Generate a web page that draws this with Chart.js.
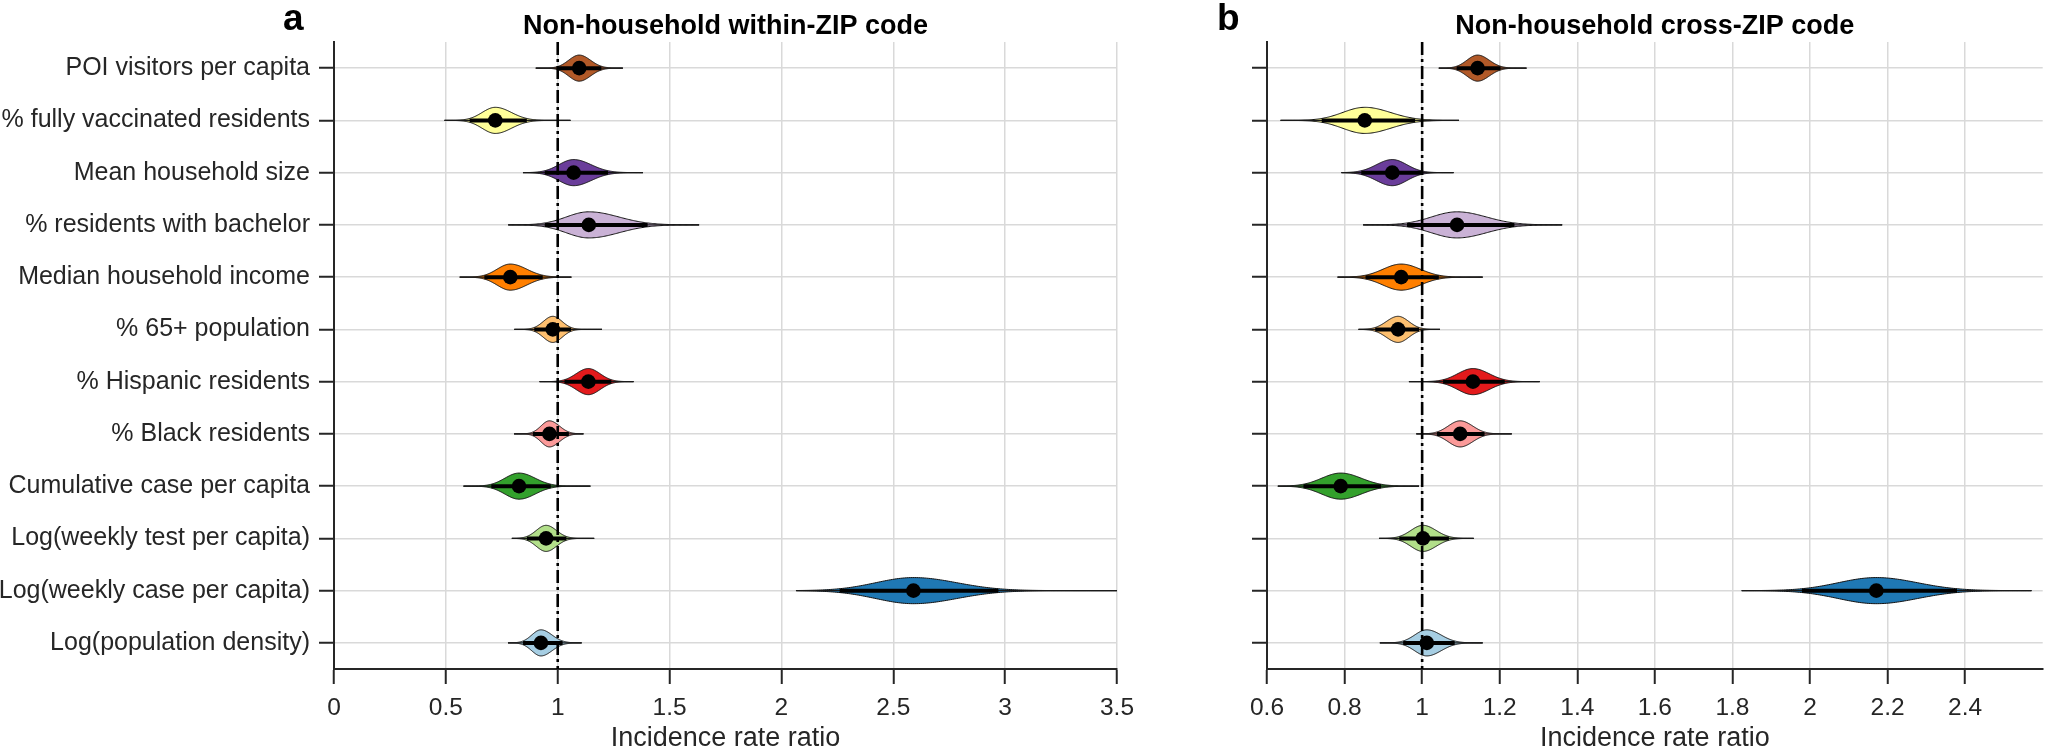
<!DOCTYPE html>
<html>
<head>
<meta charset="utf-8">
<script src="https://cdn.jsdelivr.net/npm/chart.js@4.4.0/dist/chart.umd.min.js"></script>
<style>
  html, body { margin: 0; padding: 0; background: #ffffff; }
  #wrap { position: relative; width: 2050px; height: 751px; overflow: hidden; background: #fff; }
  #ca { position: absolute; left: 0; top: 0; }
  #cb { position: absolute; left: 1150px; top: 0; }
</style>
</head>
<body>
<div id="wrap">
  <canvas id="ca" width="1150" height="756"></canvas>
  <canvas id="cb" width="900" height="756"></canvas>
</div>
<script>
// ---------------- DATA ----------------
const categories = [
  'POI visitors per capita',
  '% fully vaccinated residents',
  'Mean household size',
  '% residents with bachelor',
  'Median household income',
  '% 65+ population',
  '% Hispanic residents',
  '% Black residents',
  'Cumulative case per capita',
  'Log(weekly test per capita)',
  'Log(weekly case per capita)',
  'Log(population density)'
];

// Panel a: Non-household within-ZIP code
const medA    = [1.096, 0.721, 1.071, 1.139, 0.788, 0.978, 1.137, 0.963, 0.827, 0.948, 2.590, 0.925];
const ciLowA  = [1.004, 0.606, 0.942, 0.942, 0.672, 0.895, 1.030, 0.889, 0.703, 0.862, 2.260, 0.845];
const ciHighA = [1.195, 0.862, 1.225, 1.402, 0.933, 1.060, 1.240, 1.050, 0.969, 1.039, 2.970, 1.022];
const minA    = [0.902, 0.494, 0.845, 0.779, 0.562, 0.806, 0.919, 0.805, 0.579, 0.795, 2.066, 0.778];
const maxA    = [1.291, 1.057, 1.381, 1.632, 1.061, 1.198, 1.339, 1.115, 1.146, 1.163, 3.500, 1.107];

// Panel b: Non-household cross-ZIP code
const medB    = [1.143, 0.852, 0.923, 1.090, 0.946, 0.938, 1.131, 1.098, 0.790, 1.002, 2.171, 1.012];
const ciLowB  = [1.089, 0.741, 0.843, 0.961, 0.854, 0.879, 1.054, 1.038, 0.694, 0.941, 1.979, 0.951];
const ciHighB = [1.202, 0.982, 0.997, 1.238, 1.043, 0.992, 1.213, 1.161, 0.894, 1.069, 2.379, 1.084];
const minB    = [1.043, 0.635, 0.792, 0.848, 0.782, 0.836, 0.966, 0.985, 0.628, 0.889, 1.824, 0.891];
const maxB    = [1.269, 1.095, 1.081, 1.361, 1.156, 1.046, 1.303, 1.231, 0.992, 1.133, 2.571, 1.156];

const xTicksA = [0, 0.5, 1, 1.5, 2, 2.5, 3, 3.5];
const xTicksB = [0.6, 0.8, 1, 1.2, 1.4, 1.6, 1.8, 2, 2.2, 2.4];
const xRangeA = [0, 3.5];
const xRangeB = [0.6, 2.6];
const refLine = 1;

const titleA = 'Non-household within-ZIP code';
const titleB = 'Non-household cross-ZIP code';
const xLabel = 'Incidence rate ratio';

// ---------------- STYLE ----------------
const violinColors = ['#b15928','#ffff99','#6a3d9a','#cab2d6','#ff7f00','#fdbf6f',
                      '#e31a1c','#fb9a99','#33a02c','#b2df8a','#1f78b4','#a6cee3'];
const FONT = "'Liberation Sans', Arial, Helvetica, sans-serif";
const AX = '#262626';
const GRID = '#d9d9d9';

Chart.defaults.font.family = FONT;
Chart.defaults.color = AX;

// violins + reference line plugin
const violinPlugin = {
  id: 'violins',
  beforeDatasetsDraw(chart, args, opts) {
    const { ctx, chartArea: ca } = chart;
    const xs = chart.scales.x, ys = chart.scales.y;
    const band = Math.abs(ys.getPixelForValue(1) - ys.getPixelForValue(0));
    const hw = band * 0.25;
    ctx.save();
    ctx.beginPath();
    ctx.rect(ca.left, ca.top, ca.right - ca.left, ca.bottom - ca.top);
    ctx.clip();
    for (let i = 0; i < opts.med.length; i++) {
      const yc = ys.getPixelForValue(i);
      const m = opts.med[i], lo = opts.lo[i], hi = opts.hi[i];
      const mn = opts.min[i], mx = opts.max[i];
      const sL = (m - lo) / 1.96, sR = (hi - m) / 1.96;
      const N = 160;
      const top = [];
      for (let k = 0; k <= N; k++) {
        const v = mn + (mx - mn) * k / N;
        const s = v < m ? sL : sR;
        const z = (v - m) / s;
        top.push([xs.getPixelForValue(v), hw * Math.exp(-0.5 * z * z)]);
      }
      ctx.beginPath();
      top.forEach((p, k) => { if (k === 0) ctx.moveTo(p[0], yc - p[1]); else ctx.lineTo(p[0], yc - p[1]); });
      for (let k = top.length - 1; k >= 0; k--) ctx.lineTo(top[k][0], yc + top[k][1]);
      ctx.closePath();
      ctx.fillStyle = opts.colors[i];
      ctx.fill();
      ctx.lineWidth = 1;
      ctx.strokeStyle = '#111';
      ctx.stroke();
      // thin whisker
      ctx.beginPath();
      ctx.moveTo(xs.getPixelForValue(mn), yc);
      ctx.lineTo(xs.getPixelForValue(mx), yc);
      ctx.lineWidth = 1.3;
      ctx.strokeStyle = '#1a1a1a';
      ctx.stroke();
      // thick interval
      ctx.beginPath();
      ctx.moveTo(xs.getPixelForValue(lo), yc);
      ctx.lineTo(xs.getPixelForValue(hi), yc);
      ctx.lineWidth = 4;
      ctx.strokeStyle = '#000';
      ctx.stroke();
    }
    // reference dash-dot line
    const xr = xs.getPixelForValue(opts.ref);
    ctx.beginPath();
    ctx.setLineDash([13, 4, 3, 4]);
    ctx.moveTo(xr, ca.top);
    ctx.lineTo(xr, ca.bottom);
    ctx.lineWidth = 2.6;
    ctx.strokeStyle = '#000';
    ctx.stroke();
    ctx.setLineDash([]);
    ctx.restore();
  }
};

// titles plugin
const titlePlugin = {
  id: 'paneltitles',
  afterDraw(chart, args, opts) {
    const { ctx, chartArea: ca } = chart;
    ctx.save();
    ctx.fillStyle = '#000';
    ctx.textBaseline = 'alphabetic';
    ctx.textAlign = 'center';
    ctx.font = 'bold 27px ' + FONT;
    ctx.fillText(opts.title, (ca.left + ca.right) / 2, 34);
    ctx.textAlign = 'left';
    ctx.font = 'bold 37px ' + FONT;
    ctx.fillText(opts.letter, opts.letterX, 30);
    ctx.restore();
  }
};

function makeChart(id, cfg) {
  const fmt = v => String(+Number(v).toFixed(2));
  return new Chart(document.getElementById(id), {
    type: 'scatter',
    data: {
      datasets: [{
        data: cfg.med.map((v, i) => ({ x: v, y: categories[i] })),
        pointRadius: 7.3,
        pointHoverRadius: 7.3,
        pointBackgroundColor: '#000',
        pointBorderWidth: 0,
        showLine: false
      }]
    },
    options: {
      responsive: false,
      animation: false,
      devicePixelRatio: 1,
      layout: { padding: { left: 0, right: cfg.padRight, top: 42, bottom: 0 } },
      plugins: {
        legend: { display: false },
        tooltip: { enabled: false },
        violins: { med: cfg.med, lo: cfg.lo, hi: cfg.hi, min: cfg.min, max: cfg.max, colors: violinColors, ref: refLine },
        paneltitles: { title: cfg.title, letter: cfg.letter, letterX: cfg.letterX }
      },
      scales: {
        x: {
          type: 'linear',
          min: cfg.range[0],
          max: cfg.range[1],
          afterBuildTicks: s => { s.ticks = cfg.ticks.map(v => ({ value: v })); },
          afterFit: s => { s.height = 87; },
          ticks: { autoSkip: false, maxRotation: 0, padding: 10, color: AX, font: { size: 24.5 }, callback: fmt },
          grid: { color: GRID, lineWidth: 1.5, tickColor: AX, tickWidth: 2, tickLength: 15, drawTicks: true },
          border: { display: true, color: AX, width: 2 },
          title: { display: true, text: xLabel, color: AX, font: { size: 27 }, padding: { top: 0, bottom: 1 } }
        },
        y: {
          type: 'category',
          labels: categories,
          offset: true,
          afterFit: s => { s.width = cfg.yWidth; },
          ticks: { autoSkip: false, padding: 9, color: AX, font: { size: 25 },
                   callback: function (v, i) { return cfg.showLabels ? categories[i] : ''; } },
          grid: { offset: false, color: GRID, lineWidth: 1.5, tickColor: AX, tickWidth: 2, tickLength: 15, drawTicks: true },
          border: { display: true, color: AX, width: 2 }
        }
      }
    },
    plugins: [violinPlugin, titlePlugin]
  });
}

makeChart('ca', {
  med: medA, lo: ciLowA, hi: ciHighA, min: minA, max: maxA,
  range: xRangeA, ticks: xTicksA, title: titleA, letter: 'a', letterX: 283,
  yWidth: 334, padRight: 33, showLabels: true
});
makeChart('cb', {
  med: medB, lo: ciLowB, hi: ciHighB, min: minB, max: maxB,
  range: xRangeB, ticks: xTicksB, title: titleB, letter: 'b', letterX: 67,
  yWidth: 117, padRight: 0, showLabels: false
});
</script>
</body>
</html>
